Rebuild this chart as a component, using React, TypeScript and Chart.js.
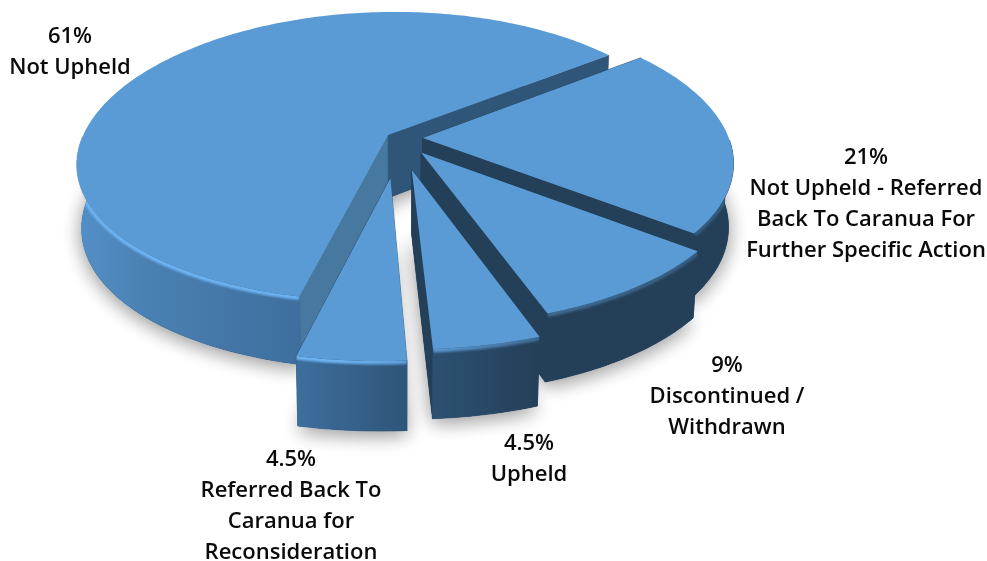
import React, { useEffect, useRef } from "react";
import { Chart, registerables } from "chart.js";

Chart.register(...registerables);

// ---- data ----
const categories = [
  "Not Upheld - Referred Back To Caranua For Further Specific Action",
  "Discontinued / Withdrawn",
  "Upheld",
  "Referred Back To Caranua for Reconsideration",
  "Not Upheld",
];
const values = [21, 9, 4.5, 4.5, 61];
const percentLabels = ["21%", "9%", "4.5%", "4.5%", "61%"];
const labelLines = [
  ["Not Upheld - Referred", "Back To Caranua For", "Further Specific Action"],
  ["Discontinued /", "Withdrawn"],
  ["Upheld"],
  ["Referred Back To", "Caranua for", "Reconsideration"],
  ["Not Upheld"],
];

// ---- styling ----
const explode = [7.9, 12.5, 22, 27, 4.1]; // percent of radius
const labelAnchors = [
  [866, 158],
  [727, 366],
  [529, 444],
  [291, 460],
  [70, 37],
];
const TOP = "#5B9BD5";
const startWall = ["#243F58", "#243F58", "#243F58", "#2F5578", "#47789F"];
const endWall = ["#243F58", "#243F58", "#243F58", "#243F58", "#2F5578"];
const VIEW = { cx: 398.6, cy: 138, A: 142.3, B: 306, p: 0.15, px: 0.18, H: 63, S: -6, taper: 0.015 };

type P = [number, number];
const project = (u: number, v: number, z = 0): P => {
  const w = 1 - VIEW.p * v;
  const wx = 1 - VIEW.px * v;
  return [
    VIEW.cx + ((VIEW.B * u + VIEW.S * v) / wx) * (1 - VIEW.taper * z),
    VIEW.cy + (VIEW.A * v) / w + (VIEW.H * z) / Math.sqrt(w),
  ];
};

const tracePts = (ctx: CanvasRenderingContext2D, pts: P[]) => {
  ctx.beginPath();
  pts.forEach((p, i) => (i ? ctx.lineTo(p[0], p[1]) : ctx.moveTo(p[0], p[1])));
  ctx.closePath();
};

const pie3d = {
  id: "pie3d",
  beforeDatasetDraw() {
    return false; // faces are painted in afterDatasetsDraw from the same arc elements
  },
  afterDatasetsDraw(chart: any) {
    const ctx: CanvasRenderingContext2D = chart.ctx;
    const arcs = chart.getDatasetMeta(0).data as any[];
    const geo = arcs.map((el, i) => {
      const a0 = el.startAngle;
      const a1 = el.endAngle;
      const mid = (a0 + a1) / 2;
      const e = explode[i] / 100;
      const ox = e * Math.cos(mid);
      const oy = e * Math.sin(mid);
      const n = Math.max(4, Math.ceil(((a1 - a0) * 180) / Math.PI));
      const rim: { u: number; v: number }[] = [];
      for (let k = 0; k <= n; k++) {
        const a = a0 + ((a1 - a0) * k) / n;
        rim.push({ u: ox + Math.cos(a), v: oy + Math.sin(a) });
      }
      const front = rim.filter((r) => r.v - oy >= 0);
      return { i, mid, ox, oy, rim, front };
    });
    const order = [...geo].sort((a, b) => Math.sin(a.mid) - Math.sin(b.mid));

    const wallGrad = ctx.createLinearGradient(75, 0, 737, 0);
    const stop = (x: number) => (x - 75) / (737 - 75);
    wallGrad.addColorStop(0, "#5390C8");
    wallGrad.addColorStop(stop(150), "#4A80B2");
    wallGrad.addColorStop(stop(295), "#3E6F9E");
    wallGrad.addColorStop(stop(405), "#2F5578");
    wallGrad.addColorStop(stop(540), "#243F58");
    wallGrad.addColorStop(1, "#243F58");

    const bevel = ctx.createLinearGradient(75, 0, 737, 0);
    bevel.addColorStop(0, "#6DB3F2");
    bevel.addColorStop(stop(340), "#6DB3F2");
    bevel.addColorStop(stop(420), "#5B9BD5");
    bevel.addColorStop(stop(540), "#3F6C94");
    bevel.addColorStop(1, "#33597B");

    ctx.save();
    // soft drop shadow under the exploded pieces
    [0, 1].forEach(() =>
      order.forEach((g) => {
        const pts: P[] = [project(g.ox, g.oy, 1), ...g.rim.map((r) => project(r.u, r.v, 1))];
        ctx.save();
        ctx.shadowColor = "rgba(0,0,0,0.24)";
        ctx.shadowBlur = 20;
        ctx.shadowOffsetY = 4;
        ctx.fillStyle = "#2F5578";
        tracePts(ctx, pts);
        ctx.fill();
        ctx.restore();
      })
    );

    order.forEach((g) => {
      const first = g.rim[0];
      const last = g.rim[g.rim.length - 1];
      const quad = (r: { u: number; v: number }, color: string) => {
        tracePts(ctx, [
          project(g.ox, g.oy, 0),
          project(r.u, r.v, 0),
          project(r.u, r.v, 1),
          project(g.ox, g.oy, 1),
        ]);
        ctx.fillStyle = color;
        ctx.strokeStyle = color;
        ctx.lineWidth = 0.6;
        ctx.fill();
        ctx.stroke();
      };
      quad(first, startWall[g.i]);
      quad(last, endWall[g.i]);

      // outer wall (camera-facing part only)
      const topArc = g.front.map((r) => project(r.u, r.v, 0));
      const botArc = g.front.map((r) => project(r.u, r.v, 1)).reverse();
      if (topArc.length > 1) {
        tracePts(ctx, [...topArc, ...botArc]);
        ctx.fillStyle = wallGrad;
        ctx.strokeStyle = wallGrad;
        ctx.lineWidth = 0.6;
        ctx.fill();
        ctx.stroke();

        // bevel along the top of the wall
        ctx.save();
        tracePts(ctx, [...topArc, ...botArc]);
        ctx.clip();
        ctx.filter = "blur(0.8px)";
        ctx.beginPath();
        topArc.forEach((p, k) => (k ? ctx.lineTo(p[0], p[1]) : ctx.moveTo(p[0], p[1])));
        ctx.strokeStyle = bevel;
        ctx.lineWidth = 7;
        ctx.stroke();
        ctx.restore();
      }

      // top face
      tracePts(ctx, [project(g.ox, g.oy, 0), ...g.rim.map((r) => project(r.u, r.v, 0))]);
      ctx.fillStyle = chart.data.datasets[0].backgroundColor[g.i] || TOP;
      ctx.fill();
    });

    // labels
    ctx.fillStyle = "#0A0A0A";
    ctx.textAlign = "center";
    ctx.textBaseline = "middle";
    ctx.font = "600 22px 'Open Sans'";
    labelAnchors.forEach(([x, y], i) => {
      [percentLabels[i], ...labelLines[i]].forEach((line, k) => {
        ctx.fillText(line, x, y + k * 31);
      });
    });
    ctx.restore();
  },
};

export default function App() {
  const ref = useRef<HTMLCanvasElement>(null);
  useEffect(() => {
    const chart = new Chart(ref.current as HTMLCanvasElement, {
      type: "pie",
      data: {
        labels: categories,
        datasets: [
          {
            data: values,
            backgroundColor: categories.map(() => TOP),
            offset: explode,
            borderWidth: 0,
          },
        ],
      },
      options: {
        responsive: false,
        animation: false,
        rotation: 52,
        plugins: { legend: { display: false }, tooltip: { enabled: false } },
      },
      plugins: [pie3d],
    } as any);
    return () => chart.destroy();
  }, []);
  return (
    <canvas
      ref={ref}
      width={987}
      height={561}
      style={{ position: "absolute", left: 0, top: 0, background: "#ffffff" }}
    />
  );
}
